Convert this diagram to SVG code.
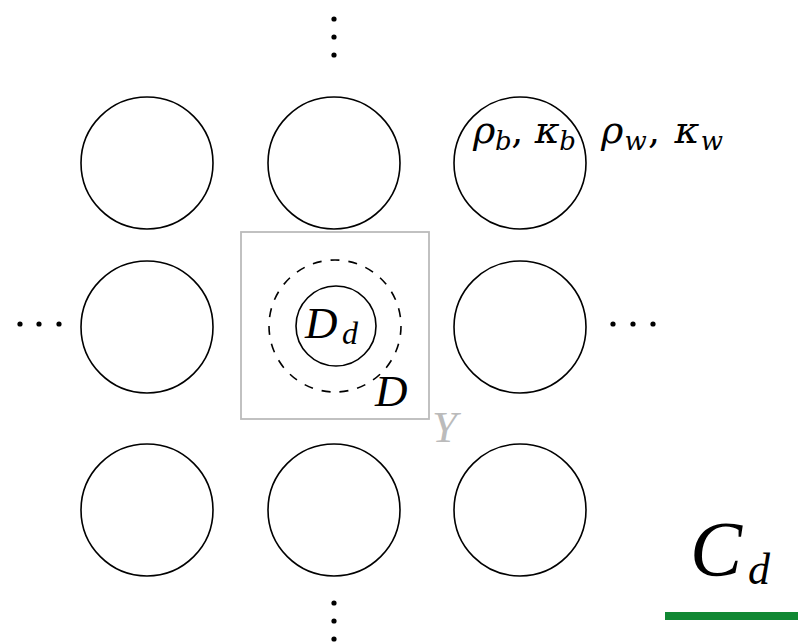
<svg xmlns="http://www.w3.org/2000/svg" width="798" height="644" viewBox="0 0 798 644">
<style>
.c{fill:none;stroke:#000;stroke-width:1.6}
.dot{fill:#000}
.m{font-family:"Liberation Serif","DejaVu Serif",serif;font-style:italic;fill:#000}
.g{font-family:"DejaVu Serif",serif;font-style:italic;fill:#000}
</style>
<rect width="798" height="644" fill="#fff"/>
<g id="cells">
<g id="c11"><circle class="c" cx="147" cy="163" r="66"/></g>
<g id="c12"><circle class="c" cx="334" cy="163" r="66"/></g>
<g id="c13"><circle class="c" cx="520" cy="163" r="66"/></g>
<g id="c21"><circle class="c" cx="147" cy="327" r="66"/></g>
<g id="c23"><circle class="c" cx="520" cy="327" r="66"/></g>
<g id="c31"><circle class="c" cx="147" cy="510" r="66"/></g>
<g id="c32"><circle class="c" cx="334" cy="510" r="66"/></g>
<g id="c33"><circle class="c" cx="520" cy="510" r="66"/></g>
</g>
<g id="cellY">
<rect x="241" y="232" width="188" height="187" fill="none" stroke="#bbb" stroke-width="1.8"/>
<circle cx="335" cy="326" r="66" fill="none" stroke="#000" stroke-width="1.6" stroke-dasharray="9,9"/>
<circle class="c" cx="336" cy="326" r="40"/>
<text class="m" x="305" y="338" font-size="45">D</text>
<text class="m" x="342" y="344" font-size="32">d</text>
<text class="m" x="375" y="406" font-size="45">D</text>
<text class="m" x="432" y="442" font-size="45" style="fill:#bbb">Y</text>
</g>
<g id="labels">
<text class="g" x="473" y="143" font-size="38" textLength="103" lengthAdjust="spacing">ρ<tspan font-size="26" dy="7">b</tspan><tspan font-style="normal" dy="-7">, </tspan>κ<tspan font-size="26" dy="7">b</tspan></text>
<text class="g" x="601" y="143" font-size="38" textLength="122" lengthAdjust="spacing">ρ<tspan font-size="26" dy="7">w</tspan><tspan font-style="normal" dy="-7">, </tspan>κ<tspan font-size="26" dy="7">w</tspan></text>
<text class="m" x="690" y="575" font-size="78">C</text>
<text class="m" x="748" y="584" font-size="44">d</text>
<rect x="665" y="612" width="133" height="8" fill="#118833"/>
</g>
<g id="dots">
<circle class="dot" cx="20" cy="324" r="2.6"/><circle class="dot" cx="39" cy="324" r="2.6"/><circle class="dot" cx="59" cy="324" r="2.6"/>
<circle class="dot" cx="613" cy="324" r="2.6"/><circle class="dot" cx="633" cy="324" r="2.6"/><circle class="dot" cx="653" cy="324" r="2.6"/>
<circle class="dot" cx="334" cy="19" r="2.6"/><circle class="dot" cx="334" cy="37" r="2.6"/><circle class="dot" cx="334" cy="55" r="2.6"/>
<circle class="dot" cx="334" cy="603" r="2.6"/><circle class="dot" cx="334" cy="621" r="2.6"/><circle class="dot" cx="334" cy="639" r="2.6"/>
</g>
<g id="connectors"></g>
</svg>
